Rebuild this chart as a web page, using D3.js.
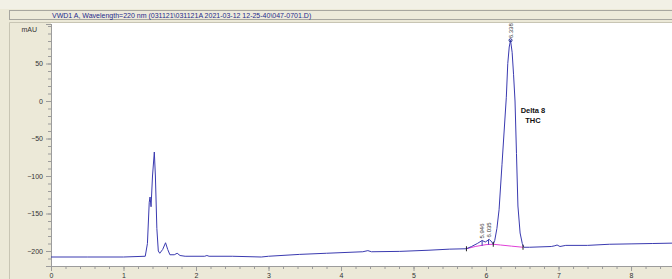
<!DOCTYPE html>
<html><head><meta charset="utf-8">
<script src="https://cdn.jsdelivr.net/npm/d3@7"></script>
<style>
html,body{margin:0;padding:0;background:#ECE9D8;}
svg{display:block;font-family:"Liberation Sans",Arial,sans-serif;}
</style></head><body>
<svg id="c" width="672" height="279"></svg>
<script>
const titleText = "VWD1 A, Wavelength=220 nm (031121\\031121A 2021-03-12 12-25-40\\047-0701.D)";
const yUnit = "mAU";
const xTicks = [0,1,2,3,4,5,6,7,8];
const yTicks = [50,0,-50,-100,-150,-200];
// signal trace: retention time (min) and absorbance (mAU)
const traceTime = [0,0.5,1.0,1.30,1.33,1.355,1.366,1.38,1.40,1.425,1.44,1.46,1.48,1.50,1.54,1.58,1.61,1.64,1.70,1.74,1.78,1.85,2.0,2.12,2.15,2.18,2.5,2.9,3.0,3.43,3.8,4.3,4.37,4.42,4.81,5.2,5.5,5.73,5.80,5.88,5.946,5.99,6.045,6.08,6.10,6.12,6.15,6.18,6.22,6.25,6.28,6.30,6.32,6.338,6.36,6.38,6.40,6.42,6.44,6.47,6.50,6.52,6.6,6.9,6.95,6.98,7.02,7.1,7.4,7.7,8.0,8.3,8.57];
const traceVal  = [-208,-208,-208,-207,-190,-135,-128,-141,-100,-68,-100,-170,-200,-203,-198,-189,-198,-205,-205,-203,-206,-207,-207,-207,-206,-207,-207,-208,-207,-204.5,-203,-201,-199.5,-201,-200.5,-199,-197.5,-197,-194,-190,-186,-188,-184.5,-188,-191,-186,-170,-145,-85,-40,5,50,72,81,65,35,0,-70,-140,-176,-190,-195,-195,-194,-193,-192,-194,-192.5,-192.5,-191,-190.5,-190,-189.5];
// integration baseline under the peak cluster
const baseTime = [5.73,5.85,6.0,6.10,6.2,6.35,6.51];
const baseVal  = [-197,-194,-191.5,-191,-192,-193.5,-195];
// peak annotations
const peakTime = [5.946,6.035,6.338];
const peakVal  = [-186,-184.5,81];
const peakBase = [-193,-191.3,-193.5];
const peakLabel = ["5.946","6.035","6.338"];
const compoundLabel = ["Delta 8","THC"];

const svg = d3.select("#c");
const W = 672, H = 279;
const L = 51, R = 672, T = 24, B = 266;
const x = d3.scaleLinear().domain([0, 8.565]).range([L, R]);
const y = d3.scaleLinear().domain([-220, 102.67]).range([B, T]);

// top light strip
svg.append("rect").attr("x",0).attr("y",0).attr("width",W).attr("height",9).attr("fill","#F2F0E6");
// title bar
svg.append("rect").attr("x",9.5).attr("y",10.5).attr("width",W).attr("height",9).attr("fill","#EDEADB").attr("stroke","#A7A6A0");
svg.append("text").attr("x",52).attr("y",17.5).attr("font-size",7).attr("fill","#1E2A8C").text(titleText);
// panel border
svg.append("path").attr("d",`M9.5,${H} V22.5 H${W}`).attr("fill","none").attr("stroke","#C8C5B4");
// plot area
svg.append("rect").attr("x",L).attr("y",T-1).attr("width",R-L).attr("height",B-T+1).attr("fill","#FFFFFF");

// y axis
const yMinor = d3.range(-220, 101, 10);
const gy = svg.append("g").attr("transform",`translate(${L},0)`);
gy.call(d3.axisLeft(y).tickValues(yMinor).tickSize(3).tickFormat(""));
gy.call(g=>g.select(".domain").remove());
const gy2 = svg.append("g").attr("transform",`translate(${L},0)`);
gy2.call(d3.axisLeft(y).tickValues(yTicks).tickSize(5).tickPadding(3));
gy2.select(".domain").attr("stroke","#9C9C9C");
svg.append("line").attr("x1",L+0.5).attr("x2",L+0.5).attr("y1",T).attr("y2",B).attr("stroke","#9C9C9C");
svg.selectAll("g line").attr("stroke","#9C9C9C");
gy2.selectAll("text").attr("font-size",7).attr("fill","#333").attr("font-family","'Liberation Sans',Arial,sans-serif");
svg.append("text").attr("x",37).attr("y",32).attr("text-anchor","end").attr("font-size",7).attr("fill","#333").text(yUnit);

// x axis
const xMinor = d3.range(0, 8.57, 0.2);
const gx = svg.append("g").attr("transform",`translate(0,${B})`);
gx.call(d3.axisBottom(x).tickValues(xMinor).tickSize(3).tickFormat(""));
gx.select(".domain").remove();
const gx2 = svg.append("g").attr("transform",`translate(0,${B})`);
gx2.call(d3.axisBottom(x).tickValues(xTicks).tickSize(5).tickPadding(2).tickFormat(d3.format("d")));
gx2.select(".domain").remove();
svg.append("line").attr("x1",L).attr("x2",R).attr("y1",B+0.5).attr("y2",B+0.5).attr("stroke","#9C9C9C");
svg.selectAll("g line").attr("stroke","#9C9C9C");
gx2.selectAll("text").attr("font-size",7).attr("fill","#333").attr("font-family","'Liberation Sans',Arial,sans-serif");

// baseline (magenta)
const line = d3.line().x(d=>x(d[0])).y(d=>y(d[1]));
svg.append("path").datum(baseTime.map((t,i)=>[t,baseVal[i]]))
  .attr("d",line).attr("fill","none").attr("stroke","#E040D8").attr("stroke-width",1);
// trace
svg.append("path").datum(traceTime.map((t,i)=>[t,traceVal[i]]))
  .attr("d",line).attr("fill","none").attr("stroke","#3A3AB0").attr("stroke-width",1);

// integration marks at start/valley/end
[5.73, 6.10, 6.51].forEach((t,i)=>{
  const v = baseVal[[0,3,6][i]];
  svg.append("line").attr("x1",x(t)).attr("x2",x(t)).attr("y1",y(v)-2.5).attr("y2",y(v)+2.5).attr("stroke","#222");
});

// peak markers & labels
peakTime.forEach((t,i)=>{
  const px = x(t), py = y(peakVal[i]);
  if (i < 2) {
    svg.append("line").attr("x1",px).attr("x2",px).attr("y1",py).attr("y2",y(peakBase[i])).attr("stroke","#3A3AB0");
  } else {
    svg.append("circle").attr("cx",px).attr("cy",py).attr("r",1.5).attr("fill","none").attr("stroke","#1E2A8C");
  }
  svg.append("text").attr("transform",`translate(${px+2.2},${py-2}) rotate(-90)`)
    .attr("font-size",6).attr("fill","#333").text(peakLabel[i]);
});

// compound label
compoundLabel.forEach((s,i)=>{
  svg.append("text").attr("x",533).attr("y",113+i*10).attr("text-anchor","middle")
    .attr("font-size",7.5).attr("font-weight","bold").attr("fill","#111").text(s);
});
</script>
</body></html>
